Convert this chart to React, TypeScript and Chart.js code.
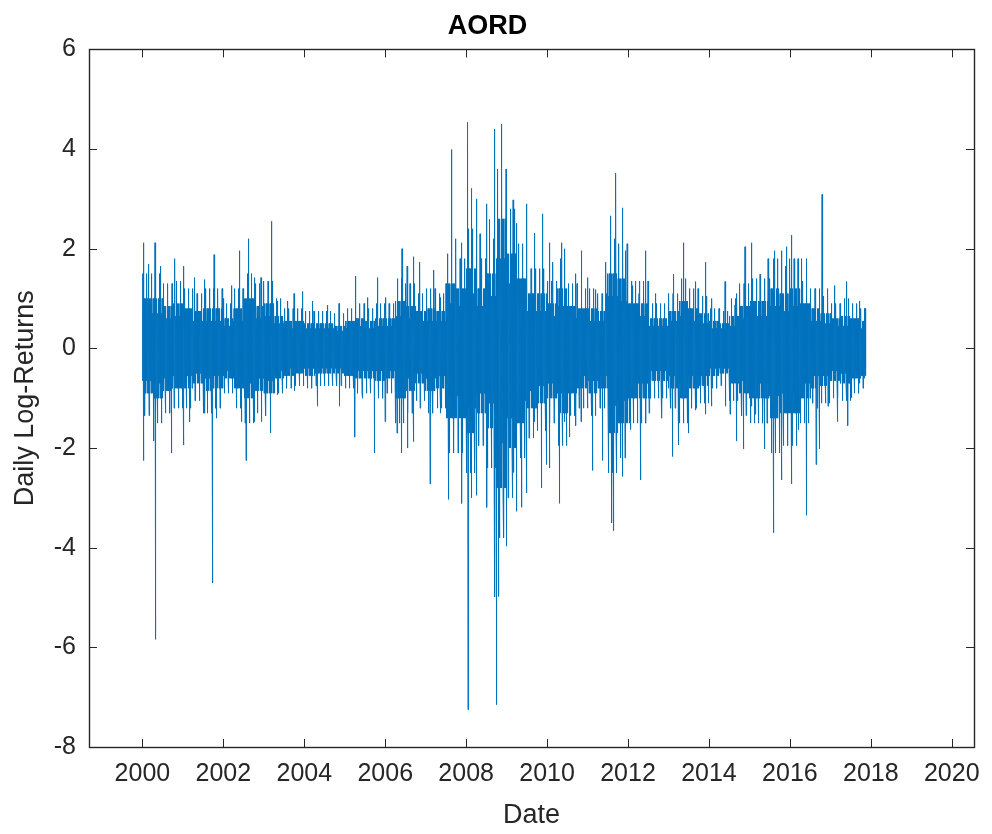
import React, { useEffect, useRef } from "react";
import { Chart, registerables } from "chart.js";

Chart.register(...registerables);

const chartTitle = "AORD";
const xAxisTitle = "Date";
const yAxisTitle = "Daily Log-Returns";
const xTickYears = [2000, 2002, 2004, 2006, 2008, 2010, 2012, 2014, 2016, 2018, 2020];
const yTickValues = [-8, -6, -4, -2, 0, 2, 4, 6];

const firstDay = 2000.01;
const lastDay = 2017.88;
const tradingDaysPerYear = 252;

// quarterly bands (start year of each quarter)
const coreQuarters = [
  2000.0, 2000.25, 2000.5, 2000.75, 2001.0, 2001.25, 2001.5, 2001.75,
  2002.0, 2002.25, 2002.5, 2002.75, 2003.0, 2003.25, 2003.5, 2003.75,
  2004.0, 2004.25, 2004.5, 2004.75, 2005.0, 2005.25, 2005.5, 2005.75,
  2006.0, 2006.25, 2006.5, 2006.75, 2007.0, 2007.25, 2007.5, 2007.75,
  2008.0, 2008.25, 2008.5, 2008.75, 2009.0, 2009.25, 2009.5, 2009.75,
  2010.0, 2010.25, 2010.5, 2010.75, 2011.0, 2011.25, 2011.5, 2011.75,
  2012.0, 2012.25, 2012.5, 2012.75, 2013.0, 2013.25, 2013.5, 2013.75,
  2014.0, 2014.25, 2014.5, 2014.75, 2015.0, 2015.25, 2015.5, 2015.75,
  2016.0, 2016.25, 2016.5, 2016.75, 2017.0, 2017.25, 2017.5, 2017.75,
];
// solid dense band
const coreTop = [
  0.7, 0.7, 0.6, 0.65, 0.55, 0.55, 0.55, 0.55,
  0.45, 0.55, 0.7, 0.6, 0.65, 0.5, 0.4, 0.4,
  0.4, 0.4, 0.4, 0.35, 0.4, 0.45, 0.4, 0.45,
  0.45, 0.65, 0.6, 0.55, 0.55, 0.55, 0.9, 0.85,
  1.1, 0.85, 1.05, 1.8, 1.3, 1.0, 0.75, 0.75,
  0.65, 0.85, 0.6, 0.55, 0.55, 0.55, 1.05, 0.95,
  0.65, 0.65, 0.45, 0.45, 0.55, 0.65, 0.55, 0.5,
  0.4, 0.4, 0.45, 0.6, 0.65, 0.65, 0.85, 0.75,
  0.85, 0.65, 0.55, 0.5, 0.45, 0.45, 0.45, 0.4,
];
const coreBottom = [
  -0.65, -0.7, -0.6, -0.55, -0.55, -0.5, -0.6, -0.55,
  -0.45, -0.55, -0.7, -0.6, -0.65, -0.45, -0.4, -0.4,
  -0.4, -0.4, -0.4, -0.4, -0.4, -0.45, -0.45, -0.45,
  -0.45, -0.7, -0.6, -0.5, -0.6, -0.55, -0.95, -0.95,
  -1.2, -0.9, -1.1, -1.9, -1.4, -1.05, -0.85, -0.75,
  -0.7, -0.9, -0.65, -0.55, -0.65, -0.55, -1.15, -1.05,
  -0.7, -0.7, -0.45, -0.45, -0.55, -0.7, -0.55, -0.55,
  -0.4, -0.4, -0.5, -0.65, -0.7, -0.7, -0.95, -0.9,
  -0.9, -0.7, -0.55, -0.55, -0.45, -0.5, -0.45, -0.4,
];
// frequent moves beyond the solid band
const fringeTop = [
  1.0, 1.0, 0.85, 0.9, 0.8, 0.75, 0.8, 0.8,
  0.6, 0.8, 1.0, 0.85, 0.9, 0.65, 0.55, 0.55,
  0.5, 0.5, 0.5, 0.45, 0.55, 0.6, 0.55, 0.6,
  0.6, 0.95, 0.85, 0.75, 0.8, 0.75, 1.3, 1.2,
  1.6, 1.2, 1.5, 2.6, 1.9, 1.4, 1.1, 1.1,
  0.9, 1.2, 0.85, 0.8, 0.8, 0.75, 1.5, 1.4,
  0.9, 0.9, 0.6, 0.6, 0.75, 0.95, 0.8, 0.7,
  0.55, 0.5, 0.65, 0.85, 0.95, 0.95, 1.2, 1.1,
  1.2, 0.9, 0.8, 0.7, 0.6, 0.65, 0.6, 0.55,
];
const fringeBottom = [
  -0.9, -1.0, -0.85, -0.8, -0.8, -0.7, -0.85, -0.8,
  -0.6, -0.8, -1.0, -0.85, -0.9, -0.6, -0.55, -0.5,
  -0.55, -0.5, -0.5, -0.5, -0.55, -0.6, -0.6, -0.65,
  -0.6, -1.0, -0.85, -0.7, -0.85, -0.8, -1.4, -1.4,
  -1.7, -1.3, -1.6, -2.8, -2.0, -1.5, -1.2, -1.1,
  -1.0, -1.3, -0.9, -0.8, -0.9, -0.8, -1.7, -1.5,
  -1.0, -1.0, -0.65, -0.65, -0.8, -1.0, -0.8, -0.75,
  -0.55, -0.5, -0.7, -0.9, -1.0, -1.0, -1.4, -1.3,
  -1.3, -1.0, -0.8, -0.75, -0.65, -0.7, -0.6, -0.55,
];
// occasional larger moves
const outerTop = [
  1.5, 1.5, 1.3, 1.35, 1.2, 1.1, 1.2, 1.2,
  0.9, 1.2, 1.5, 1.3, 1.35, 1.0, 0.8, 0.8,
  0.75, 0.75, 0.75, 0.7, 0.8, 0.9, 0.8, 0.9,
  0.9, 1.4, 1.3, 1.1, 1.2, 1.1, 1.9, 1.8,
  2.4, 1.8, 2.2, 3.6, 2.8, 2.1, 1.6, 1.6,
  1.35, 1.8, 1.3, 1.2, 1.2, 1.1, 2.2, 2.1,
  1.35, 1.35, 0.9, 0.9, 1.1, 1.4, 1.2, 1.05,
  0.8, 0.75, 1.0, 1.3, 1.4, 1.4, 1.8, 1.65,
  1.8, 1.35, 1.2, 1.05, 0.9, 1.0, 0.9, 0.8,
];
const outerBottom = [
  -1.35, -1.5, -1.3, -1.2, -1.2, -1.05, -1.3, -1.2,
  -0.9, -1.2, -1.5, -1.3, -1.35, -0.9, -0.8, -0.75,
  -0.8, -0.75, -0.75, -0.75, -0.8, -0.9, -0.9, -1.0,
  -0.9, -1.5, -1.3, -1.05, -1.3, -1.2, -2.1, -2.1,
  -2.5, -1.95, -2.4, -3.8, -3.0, -2.2, -1.8, -1.65,
  -1.5, -1.95, -1.35, -1.2, -1.35, -1.2, -2.5, -2.2,
  -1.5, -1.5, -1.0, -1.0, -1.2, -1.5, -1.2, -1.1,
  -0.8, -0.75, -1.05, -1.35, -1.5, -1.5, -2.1, -1.95,
  -1.95, -1.5, -1.2, -1.1, -1.0, -1.05, -0.9, -0.8,
];

// upward spikes
const peakYears = [
  2000.02, 2000.15, 2000.31, 2000.44, 2000.8, 2001.01, 2001.29, 2001.54, 2001.77, 2001.99,
  2002.2, 2002.4, 2002.61, 2002.77, 2002.93, 2003.18, 2003.34, 2003.59, 2003.75, 2003.96,
  2004.2, 2004.57, 2004.86, 2005.27, 2005.56, 2005.8, 2006.0, 2006.41, 2006.54, 2006.7,
  2006.86, 2007.19, 2007.36, 2007.64, 2007.73, 2007.89, 2008.04, 2008.13, 2008.26, 2008.34,
  2008.51, 2008.58, 2008.71, 2008.87, 2008.99, 2009.16, 2009.24, 2009.49, 2009.69, 2009.89,
  2010.06, 2010.14, 2010.35, 2010.43, 2010.71, 2010.84, 2011.0, 2011.21, 2011.45, 2011.57,
  2011.7, 2011.86, 2011.94, 2012.11, 2012.27, 2012.43, 2012.68, 2013.13, 2013.37, 2013.66,
  2013.91, 2014.07, 2014.4, 2014.64, 2014.69, 2014.89, 2015.05, 2015.26, 2015.46, 2015.63,
  2015.79, 2015.92, 2016.04, 2016.2, 2016.28, 2016.41, 2016.79, 2016.94, 2017.1, 2017.39,
  2017.72, 2017.84,
];
const peakValues = [
  2.12, 1.69, 2.12, 1.65, 1.8, 1.65, 1.42, 1.38, 1.88, 1.0,
  1.26, 1.96, 2.2, 1.42, 1.42, 2.55, 0.95, 0.95, 1.1, 1.14,
  0.95, 0.87, 0.9, 1.45, 1.02, 1.42, 1.02, 2.0, 1.65, 1.84,
  1.73, 1.57, 1.02, 3.99, 2.2, 2.12, 4.54, 3.21, 3.0, 2.3,
  2.9, 2.59, 4.4, 4.5, 2.0, 2.98, 2.51, 2.9, 2.31, 2.7,
  2.12, 1.73, 2.12, 2.0, 1.5, 1.96, 1.42, 1.18, 1.73, 2.66,
  3.52, 2.82, 1.96, 1.26, 1.1, 1.96, 1.1, 1.49, 2.12, 1.34,
  1.73, 1.0, 1.34, 0.87, 1.1, 2.04, 2.12, 1.49, 1.8, 1.96,
  1.96, 2.04, 2.27, 1.8, 1.8, 1.8, 3.09, 1.2, 1.26, 1.34,
  0.95, 0.8,
];

// downward spikes
const troughYears = [
  2000.03, 2000.28, 2000.31, 2000.72, 2001.01, 2001.17, 2001.54, 2001.73, 2001.83, 2002.44,
  2002.56, 2002.77, 2002.93, 2003.16, 2003.34, 2003.75, 2004.32, 2004.86, 2005.25, 2005.43,
  2005.73, 2006.0, 2006.29, 2006.41, 2006.54, 2006.7, 2006.86, 2007.11, 2007.36, 2007.56,
  2007.89, 2008.04, 2008.13, 2008.26, 2008.51, 2008.71, 2008.75, 2008.8, 2008.99, 2009.16,
  2009.24, 2009.36, 2009.49, 2009.57, 2009.69, 2009.85, 2009.98, 2010.06, 2010.3, 2010.43,
  2010.55, 2010.71, 2010.84, 2011.12, 2011.37, 2011.6, 2011.65, 2011.86, 2012.06, 2012.31,
  2012.52, 2012.84, 2013.09, 2013.25, 2013.5, 2013.66, 2013.91, 2014.07, 2014.4, 2014.52,
  2014.69, 2014.85, 2015.05, 2015.14, 2015.38, 2015.59, 2015.79, 2016.04, 2016.2, 2016.41,
  2016.57, 2016.65, 2016.73, 2016.94, 2017.18, 2017.43, 2017.51, 2017.72, 2017.84,
];
const troughValues = [
  -2.25, -1.86, -5.84, -2.1, -1.94, -1.47, -1.3, -4.71, -1.4, -1.47,
  -2.25, -1.47, -1.47, -1.7, -0.93, -0.85, -1.16, -1.16, -1.78, -1.0,
  -2.1, -1.47, -1.7, -2.1, -2.0, -1.87, -1.2, -2.72, -1.3, -3.03,
  -3.11, -7.25, -3.0, -2.95, -3.19, -4.99, -7.15, -4.98, -3.97, -2.49,
  -3.27, -3.19, -2.9, -1.3, -1.47, -2.8, -2.33, -2.4, -3.11, -1.47,
  -1.78, -1.55, -1.47, -2.45, -2.25, -3.5, -3.66, -2.57, -1.63, -2.64,
  -1.3, -1.4, -2.17, -1.94, -1.7, -1.24, -1.32, -1.16, -1.16, -1.32,
  -1.86, -2.02, -1.16, -1.32, -2.02, -3.7, -2.64, -2.72, -1.63, -3.35,
  -1.1, -2.33, -2.02, -1.16, -1.47, -1.55, -0.99, -0.7, -0.6,
];

const FONT = "'Liberation Sans', Arial, Helvetica, sans-serif";
const TEXT = "#262626";
const LINE = "#0072BD";

function buildSeries() {
  const n = Math.round((lastDay - firstDay) * tradingDaysPerYear);
  const pts: { x: number; y: number }[] = [];
  for (let i = 0; i <= n; i++) {
    const t = firstDay + i / tradingDaysPerYear;
    let q = 0;
    for (let k = 0; k < coreQuarters.length; k++) if (coreQuarters[k] <= t) q = k;
    let v: number;
    if (i % 2 === 0) {
      v = i % 26 === 0 ? outerTop[q] : i % 8 === 0 ? fringeTop[q] : coreTop[q];
    } else {
      v = i % 26 === 13 ? outerBottom[q] : i % 8 === 3 ? fringeBottom[q] : coreBottom[q];
    }
    pts.push({ x: t, y: v });
  }
  const idxFor = (yr: number, parity: number) => {
    let idx = Math.round((yr - firstDay) * tradingDaysPerYear);
    if (idx % 2 !== parity) idx += 1;
    return Math.max(0, Math.min(pts.length - 1, idx));
  };
  peakYears.forEach((yr, k) => {
    pts[idxFor(yr, 0)].y = peakValues[k];
  });
  troughYears.forEach((yr, k) => {
    pts[idxFor(yr, 1)].y = troughValues[k];
  });
  return pts;
}

const framePlugin = {
  id: "matlabFrame",
  afterDraw(chart: any) {
    const { ctx, chartArea, scales } = chart;
    const { left, right, top, bottom } = chartArea;
    const x = scales.x;
    const y = scales.y;
    const len = 8;
    ctx.save();
    ctx.strokeStyle = TEXT;
    ctx.lineWidth = 1;
    ctx.beginPath();
    xTickYears.forEach((v) => {
      const px = Math.round(x.getPixelForValue(v)) + 0.5;
      ctx.moveTo(px, bottom);
      ctx.lineTo(px, bottom - len);
      ctx.moveTo(px, top);
      ctx.lineTo(px, top + len);
    });
    yTickValues.forEach((v) => {
      const py = Math.round(y.getPixelForValue(v)) + 0.5;
      ctx.moveTo(left, py);
      ctx.lineTo(left + len, py);
      ctx.moveTo(right, py);
      ctx.lineTo(right - len, py);
    });
    ctx.stroke();
    ctx.lineWidth = 1.4;
    ctx.strokeRect(Math.round(left) + 0.5, Math.round(top) + 0.5, Math.round(right - left), Math.round(bottom - top));
    ctx.restore();
  },
};

export default function App() {
  const canvasRef = useRef<HTMLCanvasElement | null>(null);

  useEffect(() => {
    if (!canvasRef.current) return;
    const data = buildSeries();
    const chart = new Chart(canvasRef.current, {
      type: "line",
      data: {
        datasets: [
          {
            data,
            borderColor: LINE,
            borderWidth: 1,
            pointRadius: 0,
            tension: 0,
            fill: false,
          },
        ],
      },
      plugins: [framePlugin],
      options: {
        animation: false,
        responsive: false,
        devicePixelRatio: 1,
        parsing: false,
        normalized: true,
        layout: { padding: { left: 0, right: 17, top: 0, bottom: 0 } },
        plugins: {
          legend: { display: false },
          tooltip: { enabled: false },
          decimation: { enabled: false },
          title: {
            display: true,
            text: chartTitle,
            color: "#000",
            font: { family: FONT, size: 27, weight: "bold", lineHeight: 1.2 },
            padding: { top: 10, bottom: 7 },
          },
        },
        scales: {
          x: {
            type: "linear",
            min: 1998.68,
            max: 2020.55,
            grid: { display: false, drawTicks: false },
            border: { display: false },
            afterBuildTicks: (s: any) => {
              s.ticks = xTickYears.map((v) => ({ value: v }));
            },
            afterFit: (s: any) => {
              s.height = 87;
            },
            ticks: {
              color: TEXT,
              font: { family: FONT, size: 25 },
              padding: 12,
              autoSkip: false,
              maxRotation: 0,
              callback: (v: any) => String(v),
            },
            title: {
              display: true,
              text: xAxisTitle,
              color: TEXT,
              font: { family: FONT, size: 27, lineHeight: 1.2 },
              padding: { top: 0, bottom: 2 },
            },
          },
          y: {
            type: "linear",
            min: -8,
            max: 6,
            grid: { display: false, drawTicks: false },
            border: { display: false },
            afterBuildTicks: (s: any) => {
              s.ticks = yTickValues.map((v) => ({ value: v }));
            },
            afterFit: (s: any) => {
              s.width = 89;
            },
            ticks: {
              color: TEXT,
              font: { family: FONT, size: 25 },
              padding: 13,
              autoSkip: false,
              callback: (v: any) => String(v),
            },
            title: {
              display: true,
              text: yAxisTitle,
              color: TEXT,
              font: { family: FONT, size: 27, lineHeight: 1.2 },
              padding: { top: 9, bottom: 0 },
            },
          },
        },
      },
    } as any);
    return () => chart.destroy();
  }, []);

  return (
    <div style={{ position: "absolute", left: 0, top: 0, width: 992, height: 834, background: "#fff" }}>
      <canvas ref={canvasRef} width={992} height={834} style={{ display: "block", width: 992, height: 834 }} />
    </div>
  );
}
